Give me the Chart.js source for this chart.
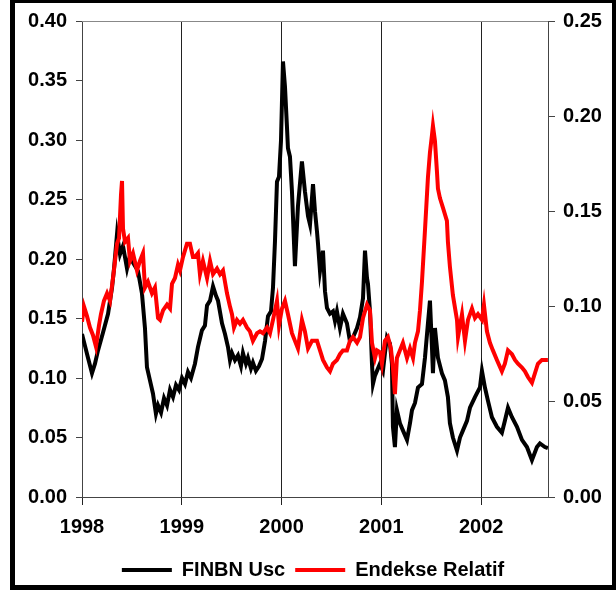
<!DOCTYPE html>
<html>
<head>
<meta charset="utf-8">
<script src="https://cdn.jsdelivr.net/npm/chart.js@4.4.1/dist/chart.umd.min.js"></script>
<style>
  html, body { margin: 0; padding: 0; background: #fff; }
  #wrap { width: 616px; height: 590px; }
</style>
</head>
<body>
<div id="wrap"><canvas id="chart" width="616" height="590"></canvas></div>
<script>
// FINBN Usc (left axis) - dates as decimal years
const finbnDates = [
  1998.000, 1998.030, 1998.060, 1998.100, 1998.130, 1998.160, 1998.210, 1998.261, 1998.301, 1998.321,
  1998.351, 1998.381, 1998.411, 1998.451, 1998.481, 1998.511, 1998.561, 1998.601, 1998.631, 1998.651,
  1998.681, 1998.711, 1998.741, 1998.762, 1998.792, 1998.822, 1998.852, 1998.882, 1998.912, 1998.942,
  1998.972, 1999.002, 1999.032, 1999.062, 1999.092, 1999.132, 1999.162, 1999.202, 1999.232, 1999.253,
  1999.283, 1999.313, 1999.343, 1999.363, 1999.403, 1999.433, 1999.463, 1999.483, 1999.503, 1999.533,
  1999.563, 1999.593, 1999.613, 1999.643, 1999.663, 1999.693, 1999.713, 1999.743, 1999.774, 1999.804,
  1999.834, 1999.864, 1999.894, 1999.914, 1999.934, 1999.954, 1999.974, 1999.994, 2000.014, 2000.034,
  2000.054, 2000.064, 2000.084, 2000.104, 2000.134, 2000.164, 2000.204, 2000.234, 2000.265, 2000.285,
  2000.315, 2000.335, 2000.355, 2000.365, 2000.385, 2000.415, 2000.435, 2000.455, 2000.485, 2000.515,
  2000.535, 2000.555, 2000.585, 2000.615, 2000.655, 2000.685, 2000.715, 2000.756, 2000.786, 2000.816,
  2000.836, 2000.856, 2000.866, 2000.886, 2000.906, 2000.916, 2000.936, 2000.956, 2000.986, 2001.016,
  2001.036, 2001.056, 2001.086, 2001.106, 2001.116, 2001.136, 2001.156, 2001.186, 2001.216, 2001.257,
  2001.287, 2001.307, 2001.337, 2001.367, 2001.407, 2001.437, 2001.467, 2001.487, 2001.507, 2001.517,
  2001.537, 2001.567, 2001.607, 2001.637, 2001.667, 2001.687, 2001.717, 2001.758, 2001.788, 2001.818,
  2001.858, 2001.888, 2001.938, 2001.988, 2002.008, 2002.038, 2002.068, 2002.108, 2002.158, 2002.208,
  2002.238, 2002.269, 2002.309, 2002.359, 2002.409, 2002.459, 2002.509, 2002.559, 2002.589, 2002.639,
  2002.669
];
const finbnValues = [
  0.137, 0.127, 0.117, 0.104, 0.112, 0.123, 0.138, 0.154, 0.176, 0.192,
  0.221, 0.204, 0.211, 0.192, 0.203, 0.197, 0.190, 0.171, 0.142, 0.109,
  0.098, 0.087, 0.070, 0.077, 0.071, 0.083, 0.077, 0.090, 0.084, 0.094,
  0.090, 0.100, 0.095, 0.105, 0.100, 0.112, 0.126, 0.140, 0.144, 0.161,
  0.165, 0.177, 0.169, 0.165, 0.146, 0.137, 0.126, 0.115, 0.121, 0.115,
  0.119, 0.110, 0.121, 0.112, 0.117, 0.108, 0.113, 0.106, 0.110, 0.116,
  0.131, 0.152, 0.156, 0.176, 0.215, 0.265, 0.269, 0.299, 0.366, 0.345,
  0.311, 0.293, 0.286, 0.257, 0.194, 0.244, 0.282, 0.257, 0.236, 0.229,
  0.263, 0.240, 0.223, 0.213, 0.190, 0.207, 0.173, 0.159, 0.154, 0.156,
  0.148, 0.156, 0.142, 0.154, 0.146, 0.131, 0.134, 0.142, 0.151, 0.167,
  0.207, 0.184, 0.179, 0.156, 0.112, 0.095, 0.102, 0.106, 0.112, 0.106,
  0.121, 0.134, 0.129, 0.112, 0.059, 0.042, 0.073, 0.062, 0.056, 0.048,
  0.062, 0.073, 0.079, 0.092, 0.095, 0.117, 0.146, 0.165, 0.126, 0.104,
  0.142, 0.117, 0.104, 0.098, 0.084, 0.062, 0.050, 0.039, 0.050, 0.056,
  0.064, 0.075, 0.084, 0.092, 0.106, 0.092, 0.081, 0.067, 0.059, 0.054,
  0.064, 0.075, 0.067, 0.059, 0.048, 0.042, 0.031, 0.042, 0.045, 0.042,
  0.041
];

// Endekse Relatif (right axis)
const endeksDates = [
  1998.000, 1998.020, 1998.050, 1998.080, 1998.110, 1998.140, 1998.170, 1998.190, 1998.220, 1998.251,
  1998.281, 1998.311, 1998.351, 1998.371, 1998.391, 1998.401, 1998.411, 1998.431, 1998.461, 1998.481,
  1998.511, 1998.551, 1998.581, 1998.611, 1998.631, 1998.661, 1998.701, 1998.731, 1998.762, 1998.782,
  1998.812, 1998.852, 1998.882, 1998.902, 1998.932, 1998.962, 1998.982, 1999.012, 1999.052, 1999.082,
  1999.112, 1999.132, 1999.162, 1999.182, 1999.212, 1999.253, 1999.283, 1999.313, 1999.353, 1999.383,
  1999.413, 1999.453, 1999.483, 1999.503, 1999.523, 1999.553, 1999.583, 1999.613, 1999.653, 1999.683,
  1999.713, 1999.754, 1999.784, 1999.814, 1999.854, 1999.884, 1999.914, 1999.954, 1999.974, 2000.004,
  2000.034, 2000.064, 2000.104, 2000.134, 2000.164, 2000.204, 2000.234, 2000.265, 2000.305, 2000.355,
  2000.385, 2000.415, 2000.455, 2000.485, 2000.515, 2000.555, 2000.585, 2000.615, 2000.655, 2000.685,
  2000.715, 2000.756, 2000.786, 2000.816, 2000.856, 2000.886, 2000.906, 2000.936, 2000.956, 2000.986,
  2001.006, 2001.036, 2001.066, 2001.096, 2001.116, 2001.136, 2001.156, 2001.186, 2001.216, 2001.257,
  2001.287, 2001.317, 2001.337, 2001.367, 2001.387, 2001.407, 2001.437, 2001.467, 2001.487, 2001.507,
  2001.517, 2001.537, 2001.557, 2001.567, 2001.587, 2001.617, 2001.657, 2001.667, 2001.687, 2001.717,
  2001.758, 2001.768, 2001.808, 2001.838, 2001.868, 2001.908, 2001.938, 2001.968, 2002.008, 2002.028,
  2002.058, 2002.088, 2002.118, 2002.158, 2002.208, 2002.238, 2002.269, 2002.309, 2002.339, 2002.369,
  2002.409, 2002.439, 2002.469, 2002.509, 2002.539, 2002.569, 2002.609, 2002.639, 2002.669
];
const endeksValues = [
  0.092, 0.100, 0.095, 0.089, 0.085, 0.079, 0.090, 0.096, 0.103, 0.107,
  0.103, 0.115, 0.133, 0.136, 0.159, 0.166, 0.141, 0.134, 0.136, 0.124,
  0.128, 0.119, 0.124, 0.128, 0.110, 0.113, 0.107, 0.110, 0.094, 0.093,
  0.098, 0.101, 0.099, 0.112, 0.115, 0.122, 0.119, 0.126, 0.133, 0.133,
  0.126, 0.126, 0.128, 0.117, 0.124, 0.115, 0.124, 0.117, 0.120, 0.117,
  0.119, 0.107, 0.100, 0.096, 0.089, 0.093, 0.091, 0.093, 0.089, 0.087,
  0.082, 0.086, 0.087, 0.086, 0.089, 0.086, 0.093, 0.103, 0.090, 0.099,
  0.103, 0.096, 0.086, 0.082, 0.078, 0.093, 0.087, 0.078, 0.082, 0.082,
  0.077, 0.072, 0.068, 0.066, 0.070, 0.072, 0.075, 0.077, 0.077, 0.082,
  0.084, 0.081, 0.084, 0.094, 0.101, 0.098, 0.081, 0.073, 0.077, 0.076,
  0.070, 0.082, 0.084, 0.078, 0.068, 0.054, 0.073, 0.077, 0.081, 0.073,
  0.078, 0.073, 0.081, 0.087, 0.098, 0.113, 0.140, 0.168, 0.181, 0.190,
  0.195, 0.187, 0.171, 0.162, 0.157, 0.152, 0.145, 0.134, 0.121, 0.106,
  0.093, 0.084, 0.096, 0.082, 0.093, 0.099, 0.094, 0.096, 0.093, 0.101,
  0.087, 0.081, 0.077, 0.072, 0.066, 0.070, 0.077, 0.075, 0.072, 0.070,
  0.068, 0.066, 0.063, 0.060, 0.065, 0.070, 0.072, 0.072, 0.072
];

const yearTicks = [1998, 1999, 2000, 2001, 2002];
const seriesNames = ['FINBN Usc', 'Endekse Relatif'];

const labelFont = { family: '"Liberation Sans", Arial, sans-serif', size: 20, weight: 'bold' };

function toPoints(xs, ys) {
  return xs.map((x, i) => ({ x, y: ys[i] }));
}

// thick black frame around the whole picture + grey top edge of the plot
const framePlugin = {
  id: 'frame',
  beforeDatasetsDraw(chart) {
    const { ctx, chartArea } = chart;
    ctx.save();
    ctx.strokeStyle = '#888';
    ctx.lineWidth = 1;
    ctx.beginPath();
    ctx.moveTo(chartArea.left, chartArea.top + 0.5);
    ctx.lineTo(chartArea.right, chartArea.top + 0.5);
    ctx.stroke();
    ctx.restore();
  },
  afterDraw(chart) {
    const ctx = chart.ctx;
    ctx.save();
    ctx.fillStyle = '#000';
    ctx.fillRect(10, 0, 5, 590);
    ctx.fillRect(10, 585, 606, 5);
    ctx.fillRect(612, 0, 4, 590);
    ctx.fillRect(10, 0, 606, 3);
    ctx.restore();
  }
};

new Chart(document.getElementById('chart'), {
  type: 'line',
  data: {
    datasets: [
      {
        label: seriesNames[0],
        data: toPoints(finbnDates, finbnValues),
        yAxisID: 'y',
        borderColor: '#000',
        backgroundColor: '#000',
        borderWidth: 4,
        pointRadius: 0,
        order: 2
      },
      {
        label: seriesNames[1],
        data: toPoints(endeksDates, endeksValues),
        yAxisID: 'y1',
        borderColor: '#ff0000',
        backgroundColor: '#ff0000',
        borderWidth: 4,
        pointRadius: 0,
        order: 1
      }
    ]
  },
  options: {
    responsive: false,
    animation: false,
    layout: { padding: { left: 16, right: 6, top: 19, bottom: 0 } },
    plugins: {
      legend: {
        position: 'bottom',
        labels: {
          boxWidth: 50,
          boxHeight: 4,
          padding: 10,
          color: '#000',
          font: labelFont,
          sort: (a, b) => a.datasetIndex - b.datasetIndex,
          generateLabels(chart) {
            const items = Chart.defaults.plugins.legend.labels.generateLabels(chart);
            items.forEach(it => { it.lineWidth = 0; });
            return items;
          }
        }
      },
      tooltip: { enabled: false }
    },
    scales: {
      x: {
        type: 'linear',
        min: 1998,
        max: 2002.67,
        afterFit(scale) { scale.height = 53; },
        afterBuildTicks(scale) { scale.ticks = yearTicks.map(v => ({ value: v })); },
        ticks: {
          color: '#000',
          font: labelFont,
          padding: 10,
          maxRotation: 0,
          callback: v => String(v)
        },
        grid: { color: '#222', lineWidth: 1, tickLength: 8 },
        border: { color: '#444' }
      },
      y: {
        position: 'left',
        min: 0,
        max: 0.4,
        afterFit(scale) { scale.width = 66; },
        ticks: {
          stepSize: 0.05,
          color: '#000',
          font: labelFont,
          padding: 9,
          callback: v => Number(v).toFixed(2)
        },
        grid: { drawOnChartArea: false, tickLength: 6, color: '#444' },
        border: { color: '#444' }
      },
      y1: {
        position: 'right',
        min: 0,
        max: 0.25,
        afterFit(scale) { scale.width = 62; },
        ticks: {
          stepSize: 0.05,
          color: '#000',
          font: labelFont,
          padding: 8,
          callback: v => Number(v).toFixed(2)
        },
        grid: { drawOnChartArea: false, tickLength: 7, color: '#444' },
        border: { color: '#444' }
      }
    }
  },
  plugins: [framePlugin]
});
</script>
</body>
</html>
